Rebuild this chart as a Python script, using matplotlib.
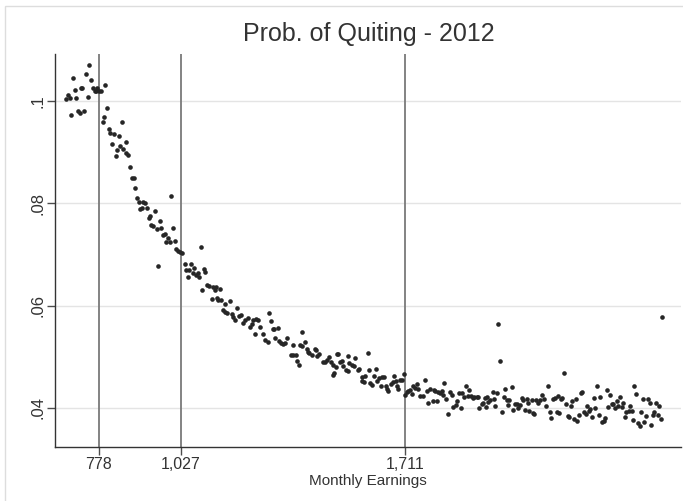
import matplotlib
matplotlib.use("Agg")
import matplotlib.pyplot as plt
from matplotlib.patches import Rectangle

plt.rcParams['font.family'] = ['Liberation Sans', 'DejaVu Sans']

# binned monthly earnings (x) and probability of quitting (y)
earnings = [
    678, 683, 689, 694, 699, 704, 709, 714, 720, 724, 727, 734, 738, 744, 748, 754,
    759, 765, 769, 773, 779, 783, 798, 789, 793, 803, 809, 813, 819, 823, 829, 834,
    838, 843, 848, 853, 860, 861, 867, 874, 879, 884, 888, 893,
    899, 904, 909, 913, 918, 925, 931, 934, 938, 943, 949,
    954, 958, 963, 968, 973, 979, 983, 989, 994, 998, 1004, 1009, 1014, 1019, 1024,
    1031, 1040, 1044, 1049, 1053, 1059, 1064, 1069, 1074, 1079, 1084,
    1088, 1092, 1099, 1102, 1109, 1115, 1123, 1127, 1133, 1135, 1137, 1142, 1147,
    1151, 1157, 1163, 1164, 1170, 1178, 1183, 1188, 1194, 1198, 1206, 1212, 1218,
    1225, 1233, 1239, 1244, 1249, 1253, 1257, 1263, 1269, 1280, 1285, 1293, 1298,
    1303, 1308, 1312, 1316, 1323, 1326, 1334, 1339, 1345, 1353, 1363, 1369, 1371,
    1379, 1382, 1388, 1392, 1398, 1399, 1408, 1412, 1416, 1420, 1428, 1436, 1441,
    1444, 1450, 1461, 1469, 1475, 1479, 1486, 1491, 1493, 1495, 1500, 1504, 1508,
    1514, 1519, 1524, 1532, 1538, 1539, 1540, 1550, 1557,
    1559, 1568, 1573, 1580, 1582, 1588, 1590, 1598, 1603, 1605, 1610, 1617, 1623,
    1627, 1633, 1639, 1641, 1649, 1654, 1656, 1661, 1669, 1674, 1678, 1684, 1687,
    1692, 1698, 1703, 1708, 1713, 1717, 1722, 1727, 1732, 1737, 1743, 1748, 1751,
    1759, 1766, 1773, 1778, 1783, 1789, 1797, 1800, 1804, 1809, 1814, 1819, 1824,
    1828, 1832, 1837, 1842, 1850, 1855, 1858,
    1870, 1867, 1877, 1883, 1885, 1893, 1898, 1903, 1907, 1913, 1919, 1923, 1931,
    1935, 1938, 1946, 1951, 1956, 1958, 1963, 1966, 1972, 1980, 1983, 1987, 1993,
    1997, 2003, 2007, 2013, 2017, 2022, 2027, 2029, 2038, 2042, 2048, 2053, 2058,
    2064, 2068, 2073, 2078, 2083, 2088, 2090, 2099, 2103, 2105, 2113, 2119, 2125,
    2129, 2135, 2141, 2148, 2154, 2159, 2165,
    2170, 2175, 2178, 2183, 2188, 2192, 2198, 2203, 2209, 2213, 2219, 2223, 2228,
    2233, 2238, 2243, 2248, 2253, 2258, 2264, 2268, 2273, 2277, 2283, 2288, 2293,
    2298, 2303, 2308, 2313, 2318, 2323, 2328, 2332, 2338, 2343, 2348, 2353, 2358,
    2363, 2368, 2373, 2378, 2383, 2387, 2394, 2398, 2404, 2408, 2412, 2418, 2422,
    2428, 2433, 2438, 2442, 2448, 2453, 2459, 2463, 2468, 2473, 2477, 2483, 2488,
    2493, 2497,
]
prob_quit = [
    0.1003, 0.1011, 0.1005, 0.0972, 0.1045, 0.1020, 0.1006, 0.0979, 0.0976, 0.1024,
    0.1025, 0.0979, 0.1052, 0.1008, 0.1070, 0.1041, 0.1024, 0.1019, 0.1018, 0.1025,
    0.1018, 0.1018, 0.1031, 0.0959, 0.0969, 0.0985, 0.0945, 0.0936, 0.0916, 0.0935,
    0.0892, 0.0903, 0.0931, 0.0912, 0.0958, 0.0906, 0.0919, 0.0897, 0.0894, 0.0871,
    0.0850, 0.0850, 0.0830, 0.0810,
    0.0803, 0.0789, 0.0790, 0.0802, 0.0800, 0.0790, 0.0771, 0.0774, 0.0758, 0.0755,
    0.0785,
    0.0749, 0.0678, 0.0766, 0.0752, 0.0738, 0.0739, 0.0724, 0.0731, 0.0724, 0.0813,
    0.0751, 0.0726, 0.0711, 0.0707, 0.0705, 0.0702, 0.0681, 0.0670, 0.0655, 0.0670,
    0.0681, 0.0663, 0.0674, 0.0660, 0.0663, 0.0655,
    0.0715, 0.0631, 0.0671, 0.0665, 0.0641, 0.0639, 0.0613, 0.0636, 0.0631, 0.0637,
    0.0615, 0.0610, 0.0632, 0.0610, 0.0592, 0.0588, 0.0603, 0.0586, 0.0609, 0.0584,
    0.0578, 0.0572, 0.0596, 0.0580, 0.0582, 0.0566, 0.0572, 0.0576, 0.0559, 0.0564,
    0.0572, 0.0545, 0.0574, 0.0571, 0.0559, 0.0545, 0.0533, 0.0528, 0.0586, 0.0569,
    0.0555, 0.0555, 0.0537, 0.0556, 0.0530, 0.0527, 0.0525, 0.0527, 0.0537, 0.0504,
    0.0504, 0.0523, 0.0504, 0.0491, 0.0484, 0.0522, 0.0549, 0.0521, 0.0529, 0.0516,
    0.0510, 0.0507, 0.0503, 0.0515, 0.0514, 0.0501, 0.0506, 0.0490, 0.0490, 0.0493,
    0.0499, 0.0489, 0.0484, 0.0465, 0.0468, 0.0480, 0.0505, 0.0506, 0.0489, 0.0492,
    0.0481, 0.0475, 0.0501, 0.0473, 0.0488, 0.0484, 0.0481,
    0.0497, 0.0475, 0.0476, 0.0460, 0.0452, 0.0451, 0.0462, 0.0508, 0.0475, 0.0449,
    0.0445, 0.0463, 0.0477, 0.0453, 0.0458, 0.0442, 0.0460, 0.0461, 0.0442, 0.0437,
    0.0434, 0.0447, 0.0450, 0.0463, 0.0452, 0.0442, 0.0437, 0.0454, 0.0455, 0.0466,
    0.0426, 0.0431, 0.0434, 0.0436, 0.0427, 0.0442, 0.0439, 0.0447, 0.0437, 0.0424,
    0.0423, 0.0454, 0.0433, 0.0410, 0.0438, 0.0413, 0.0435, 0.0433, 0.0413, 0.0432,
    0.0430, 0.0434, 0.0426, 0.0448, 0.0418, 0.0389, 0.0432, 0.0426, 0.0402,
    0.0413, 0.0406, 0.0429, 0.0400, 0.0429, 0.0421, 0.0443, 0.0424, 0.0436, 0.0423,
    0.0419, 0.0421, 0.0421, 0.0422, 0.0400, 0.0408, 0.0410, 0.0419, 0.0402, 0.0421,
    0.0411, 0.0415, 0.0432, 0.0417, 0.0403, 0.0429, 0.0564, 0.0491, 0.0393, 0.0421,
    0.0437, 0.0416, 0.0406, 0.0416, 0.0441, 0.0397, 0.0408, 0.0408, 0.0400, 0.0406,
    0.0419, 0.0416, 0.0397, 0.0417, 0.0410, 0.0395, 0.0416, 0.0391, 0.0389, 0.0415,
    0.0410, 0.0416, 0.0426, 0.0417, 0.0403, 0.0443, 0.0393, 0.0380, 0.0417,
    0.0419, 0.0392, 0.0423, 0.0391, 0.0417, 0.0419, 0.0469, 0.0408, 0.0385, 0.0382,
    0.0404, 0.0414, 0.0378, 0.0418, 0.0375, 0.0387, 0.0430, 0.0432, 0.0392, 0.0388,
    0.0403, 0.0395, 0.0398, 0.0382, 0.0419, 0.0399, 0.0442, 0.0387, 0.0421, 0.0373,
    0.0375, 0.0380, 0.0436, 0.0402, 0.0425, 0.0408, 0.0407, 0.0400, 0.0414, 0.0404,
    0.0422, 0.0401, 0.0409, 0.0382, 0.0392, 0.0395, 0.0403, 0.0395, 0.0377, 0.0443,
    0.0427, 0.0371, 0.0364, 0.0393, 0.0418, 0.0373, 0.0384, 0.0418, 0.0409, 0.0367,
    0.0386, 0.0393, 0.0410, 0.0387, 0.0403, 0.0378, 0.0577,
]

thresholds = [778, 1027, 1711]
threshold_labels = ['778', '1,027', '1,711']
y_ticks = [0.04, 0.06, 0.08, 0.1]
y_tick_labels = ['.04', '.06', '.08', '.1']

fig = plt.figure(figsize=(6.83, 5.01), dpi=100)
ax = fig.add_axes([0.081, 0.108, 0.916, 0.784])

ax.set_xlim(645, 2554)
ax.set_ylim(0.0324, 0.1091)

ax.set_yticks(y_ticks)
ax.set_yticklabels(y_tick_labels, rotation=90, va='center')
ax.yaxis.grid(True, color='#e4e4e4', linewidth=1.0)
ax.set_axisbelow(True)

for t in thresholds:
    ax.axvline(t, color='#7a7a7a', linewidth=1.3, zorder=1)

ax.scatter(earnings, prob_quit, s=11, color='#262626', linewidths=0, zorder=3)

ax.set_xticks(thresholds)
ax.set_xticklabels(threshold_labels)
ax.tick_params(axis='both', direction='out', length=6, width=1.0,
               color='#4d4d4d', labelsize=12, labelcolor='#333333')
ax.tick_params(axis='x', pad=1, labelsize=11.5)
ax.tick_params(axis='y', pad=1)

for side in ['top', 'right']:
    ax.spines[side].set_visible(False)
for side in ['left', 'bottom']:
    ax.spines[side].set_color('#333333')
    ax.spines[side].set_linewidth(1.0)

ax.set_xlabel('Monthly Earnings', fontsize=11, color='#333333', labelpad=2)
fig.text(0.54, 0.932, 'Prob. of Quiting - 2012', ha='center', va='center',
         fontsize=18, color='#333333')

# light outer frame of the graph region
fig.patches.append(Rectangle((5 / 683, -0.1), 1.2, 1.1 - 6 / 501,
                             transform=fig.transFigure, fill=False,
                             edgecolor='#dddddd', linewidth=1.0))

fig.savefig('out.png', dpi=100)
